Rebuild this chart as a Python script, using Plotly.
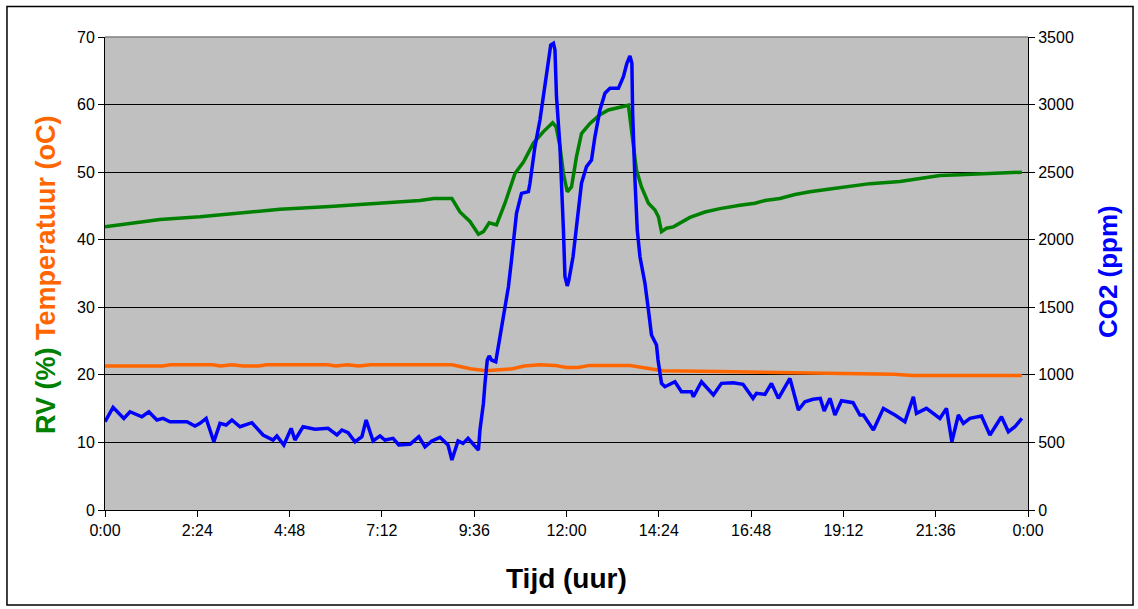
import plotly.graph_objects as go

# Time axis in hours since midnight
tick_hours = [0, 2.4, 4.8, 7.2, 9.6, 12.0, 14.4, 16.8, 19.2, 21.6, 24.0]
tick_labels = ["0:00", "2:24", "4:48", "7:12", "9:36", "12:00", "14:24",
               "16:48", "19:12", "21:36", "0:00"]

# Relative humidity (%)
rv_hours = [0, 0.65, 1.43, 2.47, 3.51, 4.55, 5.85, 7.15, 8.19, 8.55, 9.02,
            9.23, 9.49, 9.71, 9.84, 9.99, 10.18, 10.40, 10.66, 10.88, 11.14,
            11.40, 11.64, 11.73, 11.83, 11.92, 12.02, 12.13, 12.26, 12.39,
            12.61, 12.87, 13.09, 13.39, 13.61, 13.69, 13.82, 13.95, 14.13,
            14.30, 14.39, 14.47, 14.60, 14.78, 14.95, 15.21, 15.60, 15.99,
            16.51, 16.90, 17.16, 17.55, 17.94, 18.33, 18.85, 19.37, 19.89,
            20.67, 21.19, 21.71, 22.23, 23.01, 23.84]
rv_pct = [41.9, 42.4, 43.0, 43.4, 43.9, 44.5, 44.9, 45.4, 45.8, 46.1, 46.1,
          44.1, 42.7, 40.8, 41.2, 42.5, 42.2, 45.4, 49.8, 51.5, 54.3,
          56.0, 57.3, 56.7, 53.8, 49.8, 47.1, 47.8, 52.3, 55.7,
          57.2, 58.5, 59.2, 59.6, 59.9, 56.2, 50.3, 47.8, 45.4,
          44.4, 43.4, 41.2, 41.7, 41.9, 42.4, 43.3, 44.1, 44.6,
          45.1, 45.4, 45.8, 46.1, 46.7, 47.1, 47.5, 47.9, 48.3,
          48.6, 49.1, 49.5, 49.6, 49.8, 50.0]

# Temperature (oC)
temp_hours = [0, 1.5, 1.7, 2.8, 3.0, 3.3, 3.6, 4.0, 4.2, 5.8, 6.0, 6.3, 6.6,
              6.9, 9.02, 9.5, 9.9, 10.3, 10.6, 10.9, 11.3, 11.7, 12.0, 12.3,
              12.6, 13.65, 14.0, 14.5, 16.0, 17.0, 18.0, 19.5, 20.5, 21.0,
              23.84]
temp_c = [21.3, 21.3, 21.5, 21.5, 21.3, 21.5, 21.3, 21.3, 21.5, 21.5, 21.3,
          21.5, 21.3, 21.5, 21.5, 20.9, 20.6, 20.8, 20.9, 21.3, 21.5, 21.4,
          21.1, 21.1, 21.4, 21.4, 21.1, 20.6, 20.5, 20.4, 20.3, 20.2, 20.1,
          19.9, 19.9]

# CO2 concentration (ppm)
co2_hours = [0, 0.21, 0.49, 0.65, 0.96, 1.14, 1.35, 1.51, 1.69, 2.13, 2.34,
             2.47, 2.63, 2.83, 2.99, 3.15, 3.30, 3.51, 3.82, 4.11, 4.37, 4.47,
             4.65, 4.84, 4.94, 5.15, 5.46, 5.80, 6.03, 6.16, 6.32, 6.50, 6.68,
             6.79, 6.97, 7.15, 7.28, 7.49, 7.64, 7.93, 8.16, 8.32, 8.50, 8.71,
             8.92, 9.02, 9.18, 9.31, 9.44, 9.71, 9.75, 9.84, 9.88, 9.94, 9.99,
             10.05, 10.16, 10.23, 10.31, 10.40, 10.49, 10.57, 10.70, 10.83,
             11.01, 11.05, 11.18, 11.31, 11.44, 11.53, 11.59, 11.66, 11.70,
             11.74, 11.83, 11.92, 11.96, 12.02, 12.06, 12.17, 12.30, 12.39,
             12.52, 12.65, 12.74, 12.87, 13.00, 13.13, 13.35, 13.48, 13.57,
             13.65, 13.70, 13.72, 13.78, 13.84, 13.91, 14.00, 14.04, 14.13,
             14.21, 14.34, 14.38, 14.47, 14.56, 14.82, 14.99, 15.25, 15.30,
             15.51, 15.82, 16.03, 16.33, 16.59, 16.85, 16.94, 17.16, 17.33,
             17.51, 17.81, 18.03, 18.20, 18.41, 18.60, 18.70, 18.85, 18.98,
             19.15, 19.45, 19.63, 19.72, 19.98, 20.24, 20.54, 20.80, 21.02,
             21.10, 21.36, 21.49, 21.71, 21.88, 22.02, 22.19, 22.32, 22.49,
             22.79, 23.01, 23.31, 23.49, 23.66, 23.84]
co2_ppm = [653, 760, 678, 727, 690, 727, 666, 678, 653, 653, 622,
           641, 678, 505, 641, 629, 666, 616, 646, 555, 518, 548,
           481, 604, 518, 616, 597, 604, 555, 592, 572, 505, 543,
           666, 511, 548, 518, 530, 481, 486, 543, 468, 511, 538,
           481, 370, 511, 493, 530, 444, 592, 790, 937, 1110, 1140,
           1110, 1097, 1208, 1356, 1504, 1652, 1850, 2196, 2343,
           2356, 2418, 2689, 2886, 3157, 3306, 3441, 3453, 3404,
           3058, 2689, 2072, 1727, 1658, 1700, 1874, 2170, 2418,
           2541, 2590, 2763, 2960, 3084, 3120, 3120, 3207, 3306,
           3360, 3306, 2936, 2442, 2072, 1874, 1727, 1677, 1480,
           1295, 1221, 1110, 937, 912, 949, 875, 875, 838,
           949, 851, 937, 942, 930, 826, 863, 856, 937,
           826, 974, 740, 801, 819, 826, 732, 826, 703,
           809, 794, 703, 703, 592, 752, 703, 653, 838,
           715, 752, 727, 678, 752, 505, 703, 641, 678,
           696, 555, 690, 579, 616, 678]

GREEN = "#008000"
ORANGE = "#FF6600"
BLUE = "#0000FF"
FONT = "Liberation Sans, Arial, sans-serif"

fig = go.Figure()
fig.add_trace(go.Scatter(x=rv_hours, y=rv_pct, mode="lines", name="RV",
                         line=dict(color=GREEN, width=3.5), yaxis="y"))
fig.add_trace(go.Scatter(x=temp_hours, y=temp_c, mode="lines", name="Temperatuur",
                         line=dict(color=ORANGE, width=3.5), yaxis="y"))
fig.add_trace(go.Scatter(x=co2_hours, y=co2_ppm, mode="lines", name="CO2",
                         line=dict(color=BLUE, width=3.5), yaxis="y2"))

axis_common = dict(showline=True, linecolor="black", linewidth=1,
                   ticks="outside", ticklen=6, tickcolor="black",
                   tickfont=dict(family=FONT, size=16, color="black"),
                   zeroline=False)

fig.update_layout(
    width=1138, height=609,
    margin=dict(l=105, r=110, t=37, b=99),
    paper_bgcolor="white",
    plot_bgcolor="#C0C0C0",
    showlegend=False,
    xaxis=dict(range=[0, 24], tickvals=tick_hours, ticktext=tick_labels,
               showgrid=False, mirror=False, **axis_common),
    yaxis=dict(range=[0, 70], dtick=10, showgrid=True, gridcolor="black",
               gridwidth=1, **axis_common),
    yaxis2=dict(range=[0, 3500], dtick=500, overlaying="y", side="right",
                showgrid=False, **axis_common),
    shapes=[
        # grey plot-area border along the top
        dict(type="line", xref="paper", yref="paper", x0=0, x1=1, y0=1, y1=1,
             line=dict(color="#808080", width=1.5)),
        # outer chart frame
        dict(type="rect", xref="paper", yref="paper",
             x0=-0.1062, x1=1.1138, y0=-0.2008, y1=1.0645,
             line=dict(color="black", width=1.5), layer="below"),
    ],
    annotations=[
        dict(text=("<b><span style='color:#008000'>RV (%)</span> "
                   "<span style='color:#FF6600'>Temperatuur (oC)</span></b>"),
             xref="paper", yref="paper", x=-0.0639, y=0.497,
             xanchor="center", yanchor="middle", textangle=-90,
             showarrow=False, font=dict(family=FONT, size=27, color=GREEN)),
        dict(text="<b>CO2 (ppm)</b>", xref="paper", yref="paper",
             x=1.0867, y=0.503, xanchor="center", yanchor="middle",
             textangle=-90, showarrow=False,
             font=dict(family=FONT, size=26, color=BLUE)),
        dict(text="<b>Tijd (uur)</b>", xref="paper", yref="paper",
             x=0.5005, y=-0.1438, xanchor="center", yanchor="middle",
             showarrow=False, font=dict(family=FONT, size=28, color="black")),
    ],
)

fig.write_html("out.html")
